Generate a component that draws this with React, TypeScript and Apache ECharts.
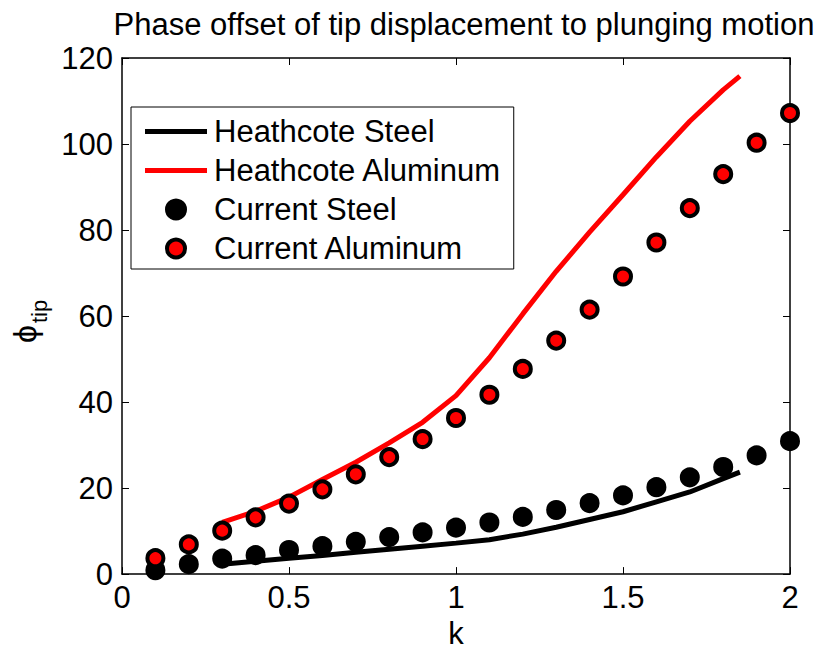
import React, { useEffect, useRef } from "react";
import * as echarts from "echarts";

// Reduced frequency k at which the present model was evaluated
const kCurrent = [0.1, 0.2, 0.3, 0.4, 0.5, 0.6, 0.7, 0.8, 0.9, 1.0, 1.1, 1.2, 1.3, 1.4, 1.5, 1.6, 1.7, 1.8, 1.9, 2.0];
const currentSteel = [0.9, 2.3, 3.6, 4.4, 5.6, 6.5, 7.5, 8.6, 9.7, 10.8, 12.0, 13.3, 14.9, 16.5, 18.3, 20.2, 22.5, 24.9, 27.6, 30.9];
const currentAluminum = [3.7, 6.9, 10.1, 13.2, 16.4, 19.7, 23.2, 27.2, 31.4, 36.3, 41.7, 47.7, 54.3, 61.5, 69.2, 77.1, 85.1, 93.0, 100.3, 107.2];

// Heathcote reference curves
const kHeathcote = [0.3, 0.4, 0.5, 0.6, 0.7, 0.8, 0.9, 1.0, 1.1, 1.2, 1.3, 1.4, 1.5, 1.6, 1.7, 1.8, 1.85];
const heathcoteSteel = [2.3, 3.0, 3.7, 4.3, 5.1, 5.8, 6.5, 7.2, 8.0, 9.3, 10.9, 12.7, 14.5, 16.8, 19.1, 22.2, 23.7];
const heathcoteAluminum = [12.0, 14.6, 17.9, 22.0, 26.0, 30.5, 35.3, 41.5, 50.3, 60.5, 70.4, 79.5, 88.2, 97.0, 105.3, 112.6, 115.8];

// Axis ticks
const xTicks = [0, 0.5, 1, 1.5, 2];
const yTicks = [0, 20, 40, 60, 80, 100, 120];

const seriesNames = ["Heathcote Steel", "Heathcote Aluminum", "Current Steel", "Current Aluminum"];

const FONT = "'Liberation Sans', Arial, Helvetica, sans-serif";

// Thick bar used as the legend sample for the solid curves
const LINE_ICON = "path://M0 0H60V5H0Z";

const pairs = (xs: number[], ys: number[]) => xs.map((x, i) => [x, ys[i]]);

export default function App() {
  const ref = useRef<HTMLDivElement>(null);

  useEffect(() => {
    if (!ref.current) return;
    const chart = echarts.init(ref.current, undefined, { renderer: "svg" });

    const xMin = xTicks[0];
    const xMax = xTicks[xTicks.length - 1];
    const xInt = xTicks[1] - xTicks[0];
    const yMin = yTicks[0];
    const yMax = yTicks[yTicks.length - 1];
    const yInt = yTicks[1] - yTicks[0];

    const frameAxis = {
      axisLine: { show: true, onZero: false, lineStyle: { color: "#000", width: 1.5 } },
      axisTick: { show: true, inside: true, length: 7, lineStyle: { color: "#000", width: 1 } },
      splitLine: { show: false },
    };

    chart.setOption({
      animation: false,
      backgroundColor: "#fff",
      title: {
        text: "Phase offset of tip displacement to plunging motion",
        left: 459,
        textAlign: "center",
        top: 4,
        textStyle: { fontFamily: FONT, fontSize: 31, fontWeight: "normal", color: "#000" },
      },
      grid: { left: 122, right: 24, top: 58, bottom: 72, containLabel: false },
      xAxis: [
        {
          type: "value",
          min: xMin,
          max: xMax,
          interval: xInt,
          position: "bottom",
          name: "k",
          nameLocation: "middle",
          nameGap: 42,
          nameTextStyle: { fontFamily: FONT, fontSize: 31, color: "#000" },
          axisLabel: { fontFamily: FONT, fontSize: 31, color: "#000", margin: 8 },
          ...frameAxis,
        },
        {
          type: "value",
          min: xMin,
          max: xMax,
          interval: xInt,
          position: "top",
          axisLabel: { show: false },
          ...frameAxis,
        },
      ],
      yAxis: [
        {
          type: "value",
          min: yMin,
          max: yMax,
          interval: yInt,
          position: "left",
          axisLabel: { fontFamily: FONT, fontSize: 31, color: "#000", margin: 9 },
          ...frameAxis,
        },
        {
          type: "value",
          min: yMin,
          max: yMax,
          interval: yInt,
          position: "right",
          axisLabel: { show: false },
          ...frameAxis,
        },
      ],
      legend: {
        orient: "vertical",
        left: 131,
        top: 107,
        itemWidth: 62,
        itemHeight: 18,
        itemGap: 8,
        padding: [9, 12, 5, 14],
        backgroundColor: "#fff",
        borderColor: "#000",
        borderWidth: 1,
        borderRadius: 0,
        symbolKeepAspect: true,
        textStyle: { fontFamily: FONT, fontSize: 31, color: "#000", lineHeight: 31, padding: [0, 0, 0, 2] },
        data: [
          { name: seriesNames[0], icon: LINE_ICON, itemStyle: { color: "#000", borderWidth: 0 } },
          { name: seriesNames[1], icon: LINE_ICON, itemStyle: { color: "#ff0000", borderWidth: 0 } },
          { name: seriesNames[2], icon: "circle", itemStyle: { borderWidth: 4, borderColor: "#000" } },
          { name: seriesNames[3], icon: "circle", itemStyle: { borderWidth: 4, borderColor: "#000" } },
        ],
      },
      series: [
        {
          name: seriesNames[0],
          type: "line",
          data: pairs(kHeathcote, heathcoteSteel),
          symbol: "none",
          lineStyle: { color: "#000", width: 5 },
          itemStyle: { color: "#000" },
          z: 2,
        },
        {
          name: seriesNames[1],
          type: "line",
          data: pairs(kHeathcote, heathcoteAluminum),
          symbol: "none",
          lineStyle: { color: "#ff0000", width: 5 },
          itemStyle: { color: "#ff0000" },
          z: 2,
        },
        {
          name: seriesNames[2],
          type: "scatter",
          data: pairs(kCurrent, currentSteel),
          symbol: "circle",
          symbolSize: 16,
          clip: false,
          itemStyle: { color: "#000", borderColor: "#000", borderWidth: 4, opacity: 1 },
          z: 3,
        },
        {
          name: seriesNames[3],
          type: "scatter",
          data: pairs(kCurrent, currentAluminum),
          symbol: "circle",
          symbolSize: 16,
          clip: false,
          itemStyle: { color: "#ff0000", borderColor: "#000", borderWidth: 4, opacity: 1 },
          z: 4,
        },
      ],
      graphic: [
        {
          type: "group",
          x: 25,
          y: 343,
          rotation: Math.PI / 2,
          children: [
            {
              type: "text",
              x: 0,
              y: 0,
              style: { text: "ϕ", fontFamily: FONT, fontSize: 32, fill: "#000", align: "left", verticalAlign: "middle" },
            },
            {
              type: "text",
              x: 20,
              y: 14,
              style: { text: "tip", fontFamily: FONT, fontSize: 22, fill: "#000", align: "left", verticalAlign: "middle" },
            },
          ],
        },
      ],
    });

    return () => chart.dispose();
  }, []);

  return (
    <div
      ref={ref}
      style={{ position: "fixed", left: 0, top: 0, width: 814, height: 654, background: "#fff" }}
    />
  );
}
